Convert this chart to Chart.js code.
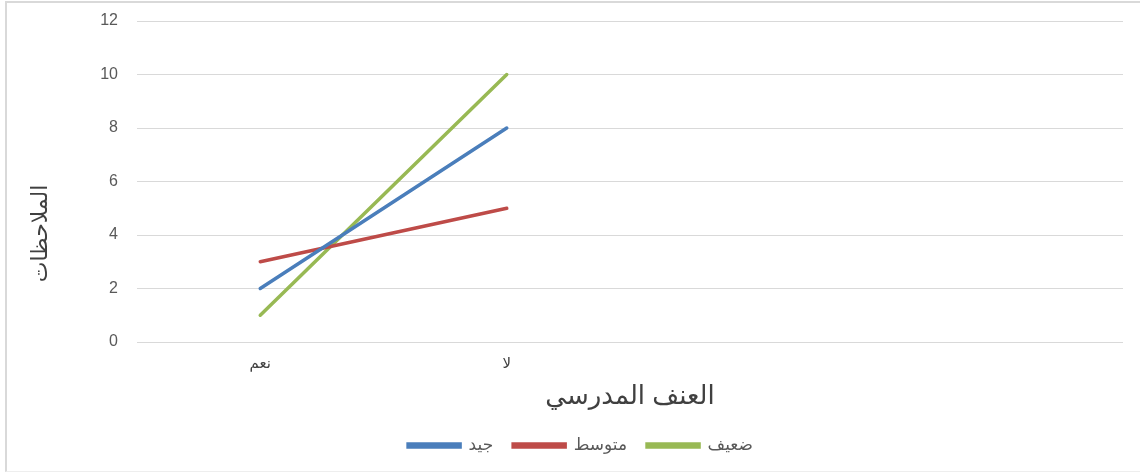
<!DOCTYPE html>
<html>
<head>
<meta charset="utf-8">
<script src="https://cdn.jsdelivr.net/npm/chart.js@4"></script>
<style>
  html, body { margin: 0; padding: 0; background: #fff; width: 1140px; height: 474px; overflow: hidden; }
  #frame { position: absolute; left: 5px; top: 1px; width: 1200px; height: 468px;
           border-left: 2px solid #d9d9d9; border-top: 2px solid #d9d9d9; border-bottom: 1px solid #eeeeee; }
  #wrap { position: absolute; left: 0; top: 0; width: 1140px; height: 474px; }
</style>
</head>
<body>
<div id="frame"></div>
<div id="wrap"><canvas id="c" width="1140" height="474"></canvas></div>
<script>
const categories = ['نعم', 'لا', '', ''];
const seriesNames = ['جيد', 'متوسط', 'ضعيف'];
const goodValues = [2, 8, null, null];
const mediumValues = [3, 5, null, null];
const weakValues = [1, 10, null, null];
const yTicks = [0, 2, 4, 6, 8, 10, 12];
const xTitle = 'العنف المدرسي';
const yTitle = 'الملاحظات';

const colors = ['#4A7EBB', '#BE4B48', '#98B954'];
const fontFam = '"Liberation Sans", "DejaVu Sans", sans-serif';

const shiftLegend = {
  id: 'shiftLegend',
  afterLayout(chart) {
    if (chart.legend) { chart.legend.left += 15; chart.legend.right += 15; }
  }
};

const ctx = document.getElementById('c').getContext('2d');
new Chart(ctx, {
  type: 'line',
  plugins: [shiftLegend],
  data: {
    labels: categories,
    datasets: [goodValues, mediumValues, weakValues].map((vals, i) => ({
      label: seriesNames[i],
      data: vals,
      borderColor: colors[i],
      backgroundColor: colors[i],
      borderWidth: 3.5,
      pointRadius: 0,
      pointHoverRadius: 0,
      borderCapStyle: 'round',
      tension: 0,
      fill: false
    }))
  },
  options: {
    responsive: false,
    animation: false,
    devicePixelRatio: 1,
    layout: { padding: { left: 8, right: 17, top: 21, bottom: 10 } },
    plugins: {
      tooltip: { enabled: false },
      legend: {
        position: 'bottom',
        labels: {
          boxWidth: 52,
          boxHeight: 3,
          padding: 20,
          color: '#595959',
          font: { family: fontFam, size: 17 }
        }
      }
    },
    scales: {
      x: {
        offset: true,
        grid: { display: false, drawTicks: false },
        border: { display: false },
        ticks: { color: '#404040', padding: 13, font: { family: fontFam, size: 15 }, maxRotation: 0 },
        title: { display: true, text: xTitle, color: '#404040', padding: { top: 0, bottom: 5 },
                 font: { family: fontFam, size: 26 } },
        afterFit: (s) => { s.height = 75; }
      },
      y: {
        min: 0, max: 12,
        afterBuildTicks: (s) => { s.ticks = yTicks.map(v => ({ value: v })); },
        grid: { color: '#D9D9D9', lineWidth: 1, drawTicks: false },
        border: { display: false },
        ticks: { color: '#595959', padding: 19, font: { family: fontFam, size: 16 } },
        title: { display: true, text: yTitle + '\u00A0'.repeat(17), color: '#404040', padding: { top: 20, bottom: 0 },
                 font: { family: fontFam, size: 22 } },
        afterFit: (s) => { s.width = 129; s.paddingTop = 0; s.paddingBottom = 0; }
      }
    }
  }
});
</script>
</body>
</html>
